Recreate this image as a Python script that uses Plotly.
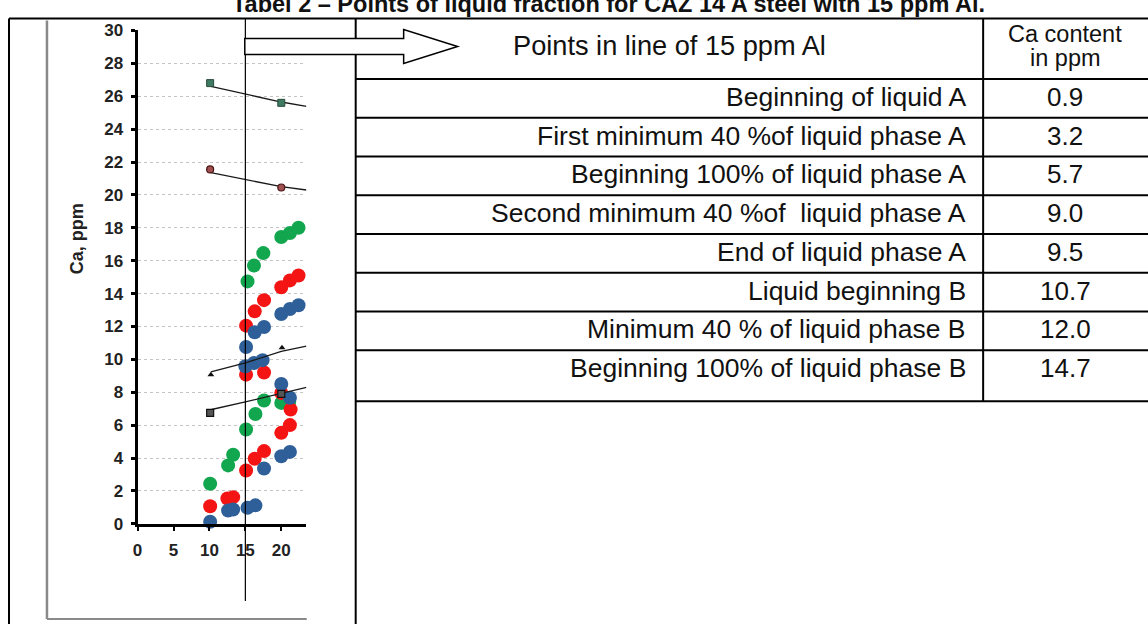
import plotly.graph_objects as go

# ---------------- data ----------------
green_x = [10.1, 12.6, 13.3, 15.1, 16.4, 17.6, 20.0, 21.1, 15.3, 16.2, 17.5, 20.0, 21.2, 22.4]
green_y = [2.43, 3.55, 4.20, 5.73, 6.68, 7.50, 7.35, 7.40, 14.74, 15.70, 16.46, 17.44, 17.68, 18.00]

red_x = [10.1, 12.5, 13.3, 15.1, 16.3, 17.6, 20.0, 21.2, 21.3, 20.0, 15.1, 17.6, 15.1, 16.3, 17.6, 20.0, 21.2, 22.4]
red_y = [1.07, 1.54, 1.62, 3.24, 3.95, 4.42, 5.53, 6.00, 6.95, 7.96, 9.07, 9.20, 12.05, 12.92, 13.60, 14.38, 14.80, 15.10]

blue_x = [10.1, 12.6, 13.3, 15.3, 16.4, 17.6, 20.0, 21.2, 21.2, 20.0, 15.0, 16.2, 17.4, 15.1, 16.3, 17.6, 20.0, 21.2, 22.4]
blue_y = [0.12, 0.81, 0.87, 0.97, 1.12, 3.36, 4.11, 4.37, 7.66, 8.50, 9.58, 9.78, 9.95, 10.75, 11.65, 11.97, 12.76, 13.06, 13.29]

# reference series (two points each) and their trend lines
sq_green_x = [10.1, 20.0]
sq_green_y = [26.8, 25.6]
sq_green_trend_x = [10.2, 15.0, 20.0, 23.5]
sq_green_trend_y = [26.6, 26.15, 25.65, 25.38]

circ_red_x = [10.1, 20.0]
circ_red_y = [21.55, 20.45]
circ_red_trend_x = [10.2, 15.0, 20.0, 23.5]
circ_red_trend_y = [21.35, 20.92, 20.5, 20.3]

tri_x = [10.2, 20.1]
tri_y = [9.07, 10.7]
tri_trend_x = [10.2, 15.0, 20.0, 23.5]
tri_trend_y = [9.24, 9.78, 10.49, 10.8]

sq_dark_x = [10.1, 20.0]
sq_dark_y = [6.74, 7.9]
sq_dark_trend_x = [10.3, 15.0, 23.5]
sq_dark_trend_y = [6.95, 7.41, 8.3]

y_ticks = [0, 2, 4, 6, 8, 10, 12, 14, 16, 18, 20, 22, 24, 26, 28, 30]
x_ticks = [0, 5, 10, 15, 20]
line_15 = 15

title_text = "Tabel 2 \u2013 Points of liquid fraction for CAZ 14 A steel with 15 ppm Al."
header_left = "Points in line of 15 ppm Al"
header_right = ["Ca content", "in ppm"]
row_labels = [
    "Beginning of liquid A",
    "First minimum 40 %of liquid phase A",
    "Beginning 100% of liquid phase A",
    "Second minimum 40 %of\u00a0\u00a0liquid phase A",
    "End of liquid phase A",
    "Liquid beginning B",
    "Minimum 40 % of liquid phase B",
    "Beginning 100% of liquid phase B",
]
ca_values = ["0.9", "3.2", "5.7", "9.0", "9.5", "10.7", "12.0", "14.7"]

# ---------------- layout helpers ----------------
# map reference-picture pixels to paper fractions of the rendered plot area
X0, XW = 4.0, 1144.0
Y0, YH = 7.5, 605.5


def fx(p):
    return (p - X0) / XW


def fy(p):
    return 1 - (p - Y0) / YH


FONT = "Arial, Liberation Sans, sans-serif"

fig = go.Figure()

dot = dict(size=14, line=dict(width=0))
fig.add_trace(go.Scatter(x=green_x, y=green_y, mode="markers", cliponaxis=False,
                         marker=dict(color="#12a64f", **dot)))
fig.add_trace(go.Scatter(x=red_x, y=red_y, mode="markers", cliponaxis=False,
                         marker=dict(color="#f51414", **dot)))
fig.add_trace(go.Scatter(x=blue_x, y=blue_y, mode="markers", cliponaxis=False,
                         marker=dict(color="#2f5f99", **dot)))

tl = dict(color="#1a1a1a", width=1.3)
for tx, ty in [(sq_green_trend_x, sq_green_trend_y), (circ_red_trend_x, circ_red_trend_y),
               (tri_trend_x, tri_trend_y), (sq_dark_trend_x, sq_dark_trend_y)]:
    fig.add_trace(go.Scatter(x=tx, y=ty, mode="lines", line=tl, cliponaxis=False))

fig.add_trace(go.Scatter(x=sq_green_x, y=sq_green_y, mode="markers", cliponaxis=False,
                         marker=dict(symbol="square", size=7, color="#3f7a62",
                                     line=dict(color="#2a4a3a", width=1))))
fig.add_trace(go.Scatter(x=circ_red_x, y=circ_red_y, mode="markers", cliponaxis=False,
                         marker=dict(symbol="circle", size=7, color="#a05050",
                                     line=dict(color="#4a1515", width=1.2))))
fig.add_trace(go.Scatter(x=tri_x, y=tri_y, mode="markers", cliponaxis=False,
                         marker=dict(symbol="triangle-up", size=6, color="#111111")))
fig.add_trace(go.Scatter(x=sq_dark_x, y=sq_dark_y, mode="markers", cliponaxis=False,
                         marker=dict(symbol="square", size=7, color="#555555",
                                     line=dict(color="#111111", width=1.2))))

shapes = []


def hline(y, x0, x1, color="black", width=2):
    shapes.append(dict(type="line", xref="paper", yref="paper", x0=fx(x0), x1=fx(x1),
                       y0=fy(y), y1=fy(y), line=dict(color=color, width=width), layer="above"))


def vline(x, y0, y1, color="black", width=2):
    shapes.append(dict(type="line", xref="paper", yref="paper", x0=fx(x), x1=fx(x),
                       y0=fy(y0), y1=fy(y1), line=dict(color=color, width=width), layer="above"))


# chart image border (grey)
vline(46, 19, 618, color="#8a8a8a", width=2.5)
hline(618, 46, 306, color="#8a8a8a", width=2)

# outer frame
hline(17, 8, 1152)
vline(8, 17, 626)
vline(355, 17, 626)

# table grid
row_top = 77.5
row_h = 38.8
n = len(row_labels)
hline(row_top, 355, 1152)
for i in range(n):
    yb = row_top + row_h * (i + 1) if i < n - 1 else 400
    hline(yb, 355, 1152)
vline(983, 17, 400)

# vertical line x=15 in chart
shapes.append(dict(type="line", xref="x", yref="paper", x0=line_15, x1=line_15,
                   y0=fy(600), y1=fy(17), line=dict(color="black", width=1.2), layer="above"))

# hollow arrow
pts = [(244, 37), (403, 37), (403, 28), (457, 45), (403, 62), (403, 53), (244, 53)]
path = "M " + " L ".join(f"{fx(a):.5f},{fy(b):.5f}" for a, b in pts) + " Z"
shapes.append(dict(type="path", xref="paper", yref="paper", path=path,
                   fillcolor="white", line=dict(color="black", width=1.5), layer="above"))

annotations = []


def text(x, y, s, size=25, anchor="center", bold=False, color="#111111", angle=0):
    annotations.append(dict(xref="paper", yref="paper", x=fx(x), y=fy(y), text=(f"<b>{s}</b>" if bold else s),
                            showarrow=False, xanchor=anchor, yanchor="middle", textangle=angle,
                            font=dict(family=FONT, size=size, color=color)))


text(608, 2, title_text, size=23.5, bold=True)
text(669, 44, header_left, size=27.2)
text(1065, 32.5, header_right[0], size=23.5)
text(1065, 57, header_right[1], size=23.5)
for i, (lab, val) in enumerate(zip(row_labels, ca_values)):
    yc = row_top + row_h * (i + 0.5) - 1.5
    text(968, yc, lab, size=26.5, anchor="right")
    text(1065, yc, val, size=26)

text(75.5, 237.5, "Ca, ppm", size=18, bold=True, angle=-90, color="#222222")

fig.update_layout(
    autosize=True,
    margin=dict(l=0, r=0, t=0, b=0, pad=0),
    paper_bgcolor="white", plot_bgcolor="white",
    showlegend=False,
    shapes=shapes,
    annotations=annotations,
    xaxis=dict(domain=[fx(136.7), fx(305.7)], range=[0, 23.5], tickvals=x_ticks,
               showgrid=False, zeroline=False, showline=True, linecolor="black", linewidth=3,
               ticks="outside", ticklen=4, tickwidth=2, tickcolor="black",
               ticklabelstandoff=5,
               tickfont=dict(family=FONT, size=17, color="#222222", weight="bold")),
    yaxis=dict(domain=[fy(522.7), fy(29)], range=[0, 30], tickvals=y_ticks,
               showgrid=True, gridcolor="#c4c4c4", griddash="dot", gridwidth=1.2,
               zeroline=False, showline=True, linecolor="black", linewidth=3,
               ticks="outside", ticklen=4, tickwidth=3, tickcolor="black",
               ticklabelstandoff=4,
               tickfont=dict(family=FONT, size=17, color="#222222", weight="bold")),
)

post = (
    "var h=document.documentElement,b=document.body;"
    "h.style.margin='0';h.style.padding='0';h.style.height='100%';h.style.overflow='hidden';"
    "b.style.margin='0';b.style.padding='0';b.style.height='100%';b.style.overflow='hidden';"
    "var gd=document.getElementById('{plot_id}');"
    "if(gd){gd.parentElement.style.height='100%';gd.parentElement.style.margin='0';"
    "gd.style.height='100%';gd.style.width='100%';Plotly.Plots.resize(gd);}"
)

fig.write_html(
    "out.html",
    default_width="100%",
    default_height="100%",
    config={"displayModeBar": False, "responsive": True},
    post_script=post,
)
